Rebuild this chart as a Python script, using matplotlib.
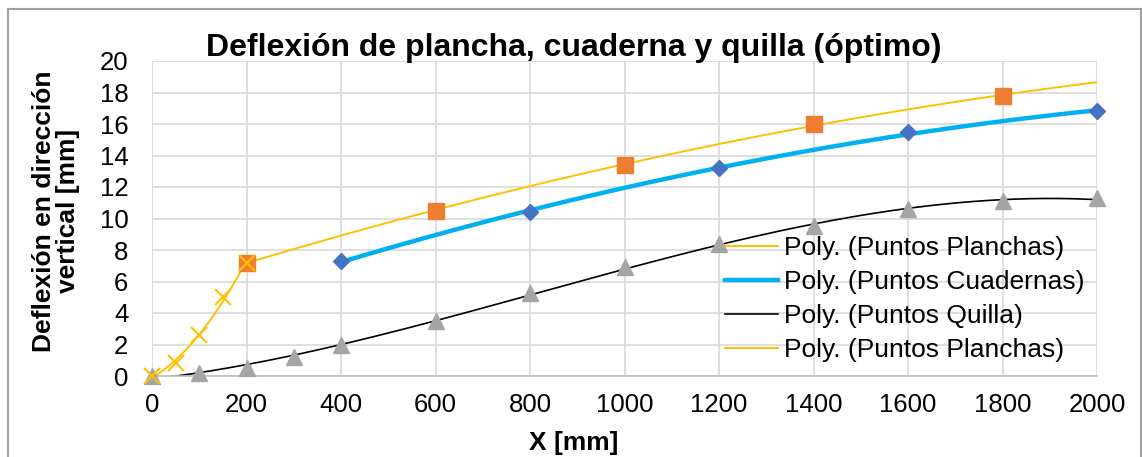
import matplotlib.pyplot as plt
import numpy as np
from matplotlib.lines import Line2D

plt.rcParams['font.family'] = ['Liberation Sans', 'DejaVu Sans']

# datos
x_planchas = [200, 600, 1000, 1400, 1800]
y_planchas = [7.2, 10.5, 13.4, 16.0, 17.8]

x_planchas2 = [0, 50, 100, 150, 200]
y_planchas2 = [0.0, 0.8, 2.6, 5.0, 7.2]

x_cuadernas = [400, 800, 1200, 1600, 2000]
y_cuadernas = [7.3, 10.4, 13.2, 15.5, 16.8]

x_quilla = [0, 100, 200, 300, 400, 600, 800, 1000, 1200, 1400, 1600, 1800, 2000]
y_quilla = [0.0, 0.2, 0.5, 1.2, 2.0, 3.5, 5.3, 6.9, 8.4, 9.5, 10.6, 11.1, 11.3]

AMARILLO = "#FFC000"
NARANJA = "#ED7D31"
AZUL = "#4472C4"
CELESTE = "#00B0F0"
GRIS = "#A5A5A5"

W, H = 1142, 457


def tendencia(xs, ys, grado, x0, x1):
    c = np.polyfit(xs, ys, grado)
    xx = np.linspace(x0, x1, 200)
    return xx, np.polyval(c, xx)


fig = plt.figure(figsize=(W / 100, H / 100), dpi=100)
ax = fig.add_axes([152 / W, 1 - 376 / H, 945 / W, 315 / H])

# marcadores
ax.plot(x_quilla, y_quilla, linestyle="none", marker="^", color=GRIS, markersize=11, zorder=3, clip_on=False)
ax.plot(x_planchas, y_planchas, linestyle="none", marker="s", color=NARANJA, markersize=11, zorder=3)
ax.plot(x_cuadernas, y_cuadernas, linestyle="none", marker="D", color=AZUL, markersize=8.5, zorder=3, clip_on=False)
ax.plot(x_planchas2, y_planchas2, linestyle="none", marker="x", color=AMARILLO,
        markersize=11, markeredgewidth=1.5, zorder=4, clip_on=False)

# líneas de tendencia
xx, yy = tendencia(x_planchas, y_planchas, 2, 200, 2000)
ax.plot(xx, yy, color=AMARILLO, lw=1.4, label="Poly. (Puntos Planchas)", zorder=2)
xx, yy = tendencia(x_cuadernas, y_cuadernas, 2, 400, 2000)
ax.plot(xx, yy, color=CELESTE, lw=3.2, label="Poly. (Puntos Cuadernas)", zorder=2)
xx, yy = tendencia(x_quilla, y_quilla, 3, 0, 2000)
ax.plot(xx, yy, color="black", lw=1.2, label="Poly. (Puntos Quilla)", zorder=2)
xx, yy = tendencia(x_planchas2, y_planchas2, 2, 0, 200)
ax.plot(xx, yy, color=AMARILLO, lw=1.4, label="Poly. (Puntos Planchas)", zorder=2)

ax.set_xlim(0, 2000)
ax.set_ylim(0, 20)
ax.set_xticks(np.arange(0, 2001, 200))
ax.set_yticks(np.arange(0, 21, 2))
ax.grid(True, color="#D9D9D9", lw=1.2)
ax.set_axisbelow(True)
for s in ["top", "right", "left"]:
    ax.spines[s].set_visible(False)
ax.spines["bottom"].set_color("#BFBFBF")
ax.spines["bottom"].set_linewidth(1.2)
ax.tick_params(length=0, labelsize=18.5)
ax.tick_params(axis="x", pad=12)
ax.tick_params(axis="y", pad=17)

fig.text(574 / W, 1 - 443 / H, "X [mm]", ha="center", va="center", fontsize=19, fontweight="bold")
fig.text(56 / W, 1 - 211 / H, "Deflexión en dirección\nvertical [mm]", ha="center", va="center",
         rotation=90, multialignment="center", fontsize=19, fontweight="bold", linespacing=1.05)
fig.text(574 / W, 1 - 48 / H, "Deflexión de plancha, cuaderna y quilla (óptimo)",
         ha="center", va="center", fontsize=23, fontweight="bold")

ax.legend(loc="upper left", bbox_to_anchor=(725 / W, 1 - 236 / H), bbox_transform=fig.transFigure,
          frameon=False, fontsize=19, handlelength=2.0, handletextpad=0.25, labelspacing=0.38,
          borderaxespad=0, borderpad=0)

# borde exterior del gráfico
borde = dict(color="#A0A0A0", lw=1.5, transform=fig.transFigure)
fig.add_artist(Line2D([7.5 / W, 7.5 / W], [0, 1 - 9 / H], **borde))
fig.add_artist(Line2D([7.5 / W, 1140.5 / W], [1 - 9 / H, 1 - 9 / H], **borde))
fig.add_artist(Line2D([1140.5 / W, 1140.5 / W], [0, 1 - 9 / H], **borde))

fig.savefig("out.png", dpi=100)
plt.close()
